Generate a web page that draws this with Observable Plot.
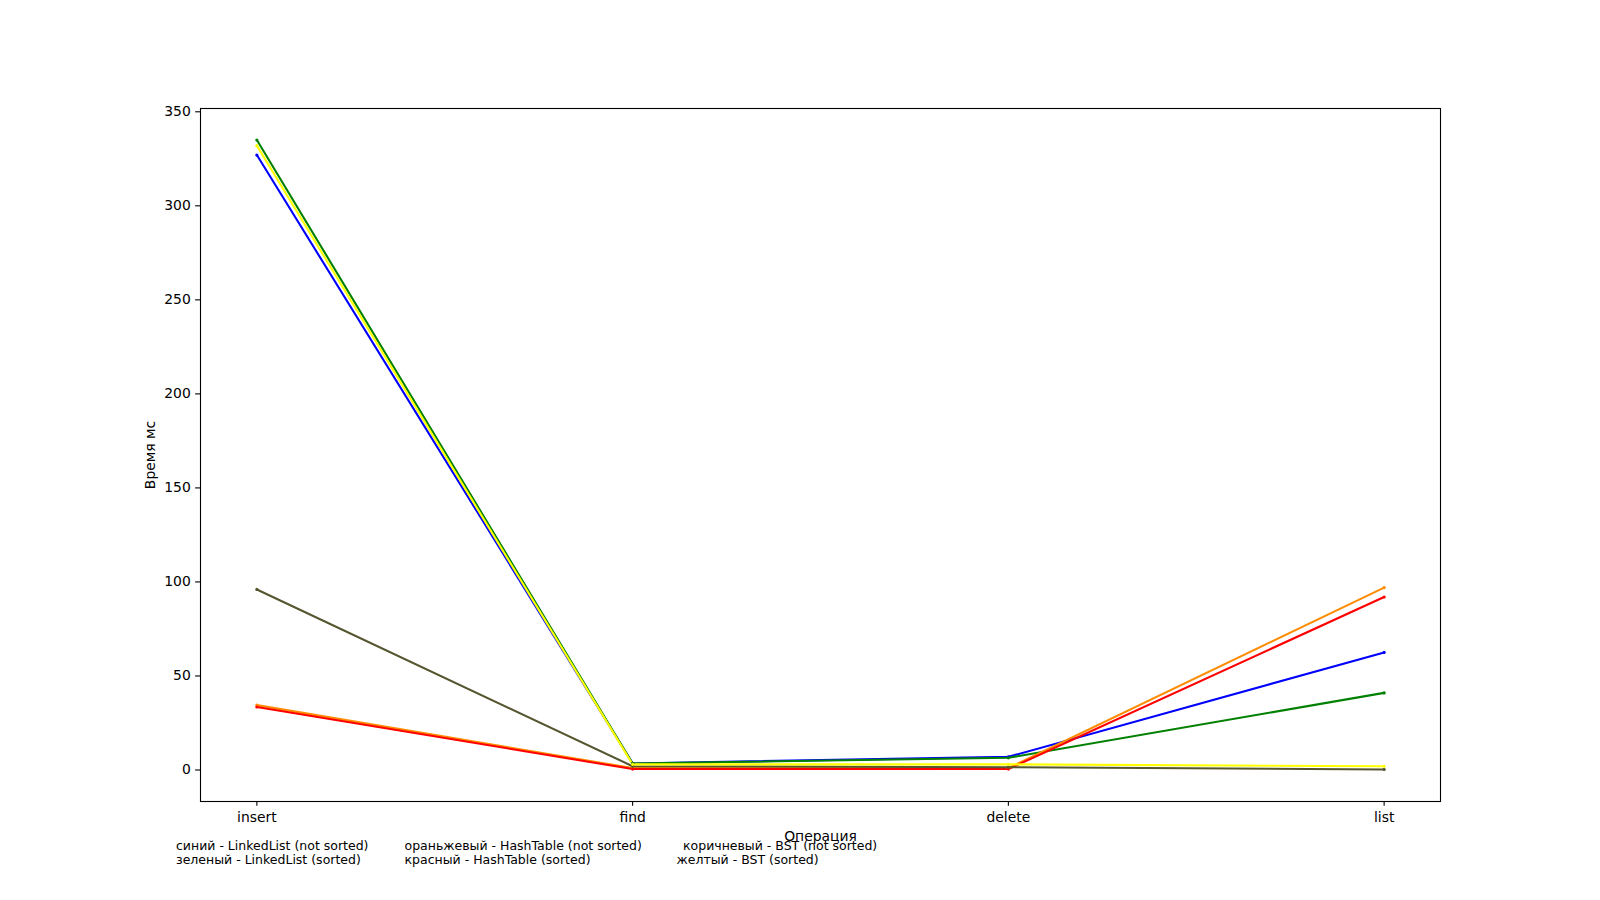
<!DOCTYPE html>
<html>
<head>
<meta charset="utf-8">
<script src="https://cdn.jsdelivr.net/npm/d3@7"></script>
<script src="https://cdn.jsdelivr.net/npm/@observablehq/plot@0.6"></script>
<style>
  html, body { margin: 0; padding: 0; background: #fff; }
  #chart { position: absolute; left: 0; top: 0; }
</style>
</head>
<body>
<div id="chart"></div>
<script>
// Operations (x categories)
const operations = ["insert", "find", "delete", "list"];

// Series values (ms)
const linkedListNotSorted = [327, 3.5, 7, 62.5];   // blue
const linkedListSorted    = [335, 3.5, 6.5, 41];   // green
const hashTableNotSorted  = [34.5, 1, 1, 97];      // orange
const hashTableSorted     = [33.5, 0.5, 0.5, 92];  // red
const bstNotSorted        = [96, 2, 1.5, 0.3];     // brown/olive
const bstSorted           = [332, 3, 3, 2];        // yellow

const seriesNames  = ["LinkedList (not sorted)", "LinkedList (sorted)", "HashTable (not sorted)", "HashTable (sorted)", "BST (not sorted)", "BST (sorted)"];
const seriesValues = [linkedListNotSorted, linkedListSorted, hashTableNotSorted, hashTableSorted, bstNotSorted, bstSorted];
const seriesColors = ["#0000ff", "#008000", "#ff8c00", "#ff0000", "#55552f", "#ffff00"];

const yTicks = [0, 50, 100, 150, 200, 250, 300, 350];

const legendLines = [
  "синий - LinkedList (not sorted)",
  "зеленый - LinkedList (sorted)",
  "ораньжевый - HashTable (not sorted)",
  "красный - HashTable (sorted)",
  "коричневый - BST (not sorted)",
  "желтый - BST (sorted)"
];
const xLabel = "Операция";
const yLabel = "Время мс";

// Build long table
const rows = [];
seriesValues.forEach((vals, s) => {
  vals.forEach((v, i) => rows.push({series: seriesNames[s], op: operations[i], value: v}));
});

const allVals = seriesValues.flat();
const vmin = Math.min(0, d3.min(allVals)), vmax = d3.max(allVals);
const pad = (vmax - vmin) * 0.05;

const L = 200, T = 108, W = 1600, H = 900;
const fs = 13.9;
const legendFs = 12.5;

const lineMarks = seriesNames.map((name, s) =>
  Plot.line(rows.filter(r => r.series === name), {x: "op", y: "value", stroke: seriesColors[s], strokeWidth: 2.08})
);
const dotMarks = seriesNames.map((name, s) =>
  Plot.dot(rows.filter(r => r.series === name), {x: "op", y: "value", fill: seriesColors[s], r: 1.6})
);

const legendPos = [
  [175.5, 845], [175.5, 859],
  [404, 845], [404, 859],
  [682.5, 845], [676, 859]
];
const legendMarks = legendLines.map((t, i) =>
  Plot.text([t], {frameAnchor: "top-left", dx: legendPos[i][0] - L, dy: legendPos[i][1] - T,
    textAnchor: "start", lineAnchor: "middle", fontSize: legendFs, fill: "black"})
);

const chart = Plot.plot({
  width: W,
  height: H,
  marginLeft: L,
  marginRight: 160,
  marginTop: T,
  marginBottom: 99,
  style: {fontFamily: "DejaVu Sans", fontSize: fs + "px", background: "#fff", color: "black", overflow: "visible"},
  x: {type: "point", domain: operations, padding: 0.15, round: false},
  y: {domain: [vmin - pad, vmax + pad]},
  marks: [
    Plot.axisY({ticks: yTicks, tickSize: 4.86, tickPadding: 4.86, label: null, fontSize: fs, strokeWidth: 1.1}),
    Plot.axisX({tickSize: 4.86, tickPadding: 5.5, label: null, fontSize: fs, strokeWidth: 1.1}),
    ...lineMarks,
    ...dotMarks,
    Plot.frame({stroke: "black", strokeWidth: 1.1}),
    Plot.text([xLabel], {frameAnchor: "top-left", dx: 820 - L, dy: 836 - T, textAnchor: "middle", lineAnchor: "middle", fontSize: fs, fill: "black"}),
    Plot.text([yLabel], {frameAnchor: "top-left", dx: 150 - L, dy: 454.5 - T, rotate: -90, textAnchor: "middle", lineAnchor: "middle", fontSize: fs, fill: "black"}),
    ...legendMarks
  ]
});
document.getElementById("chart").appendChild(chart);
</script>
</body>
</html>
